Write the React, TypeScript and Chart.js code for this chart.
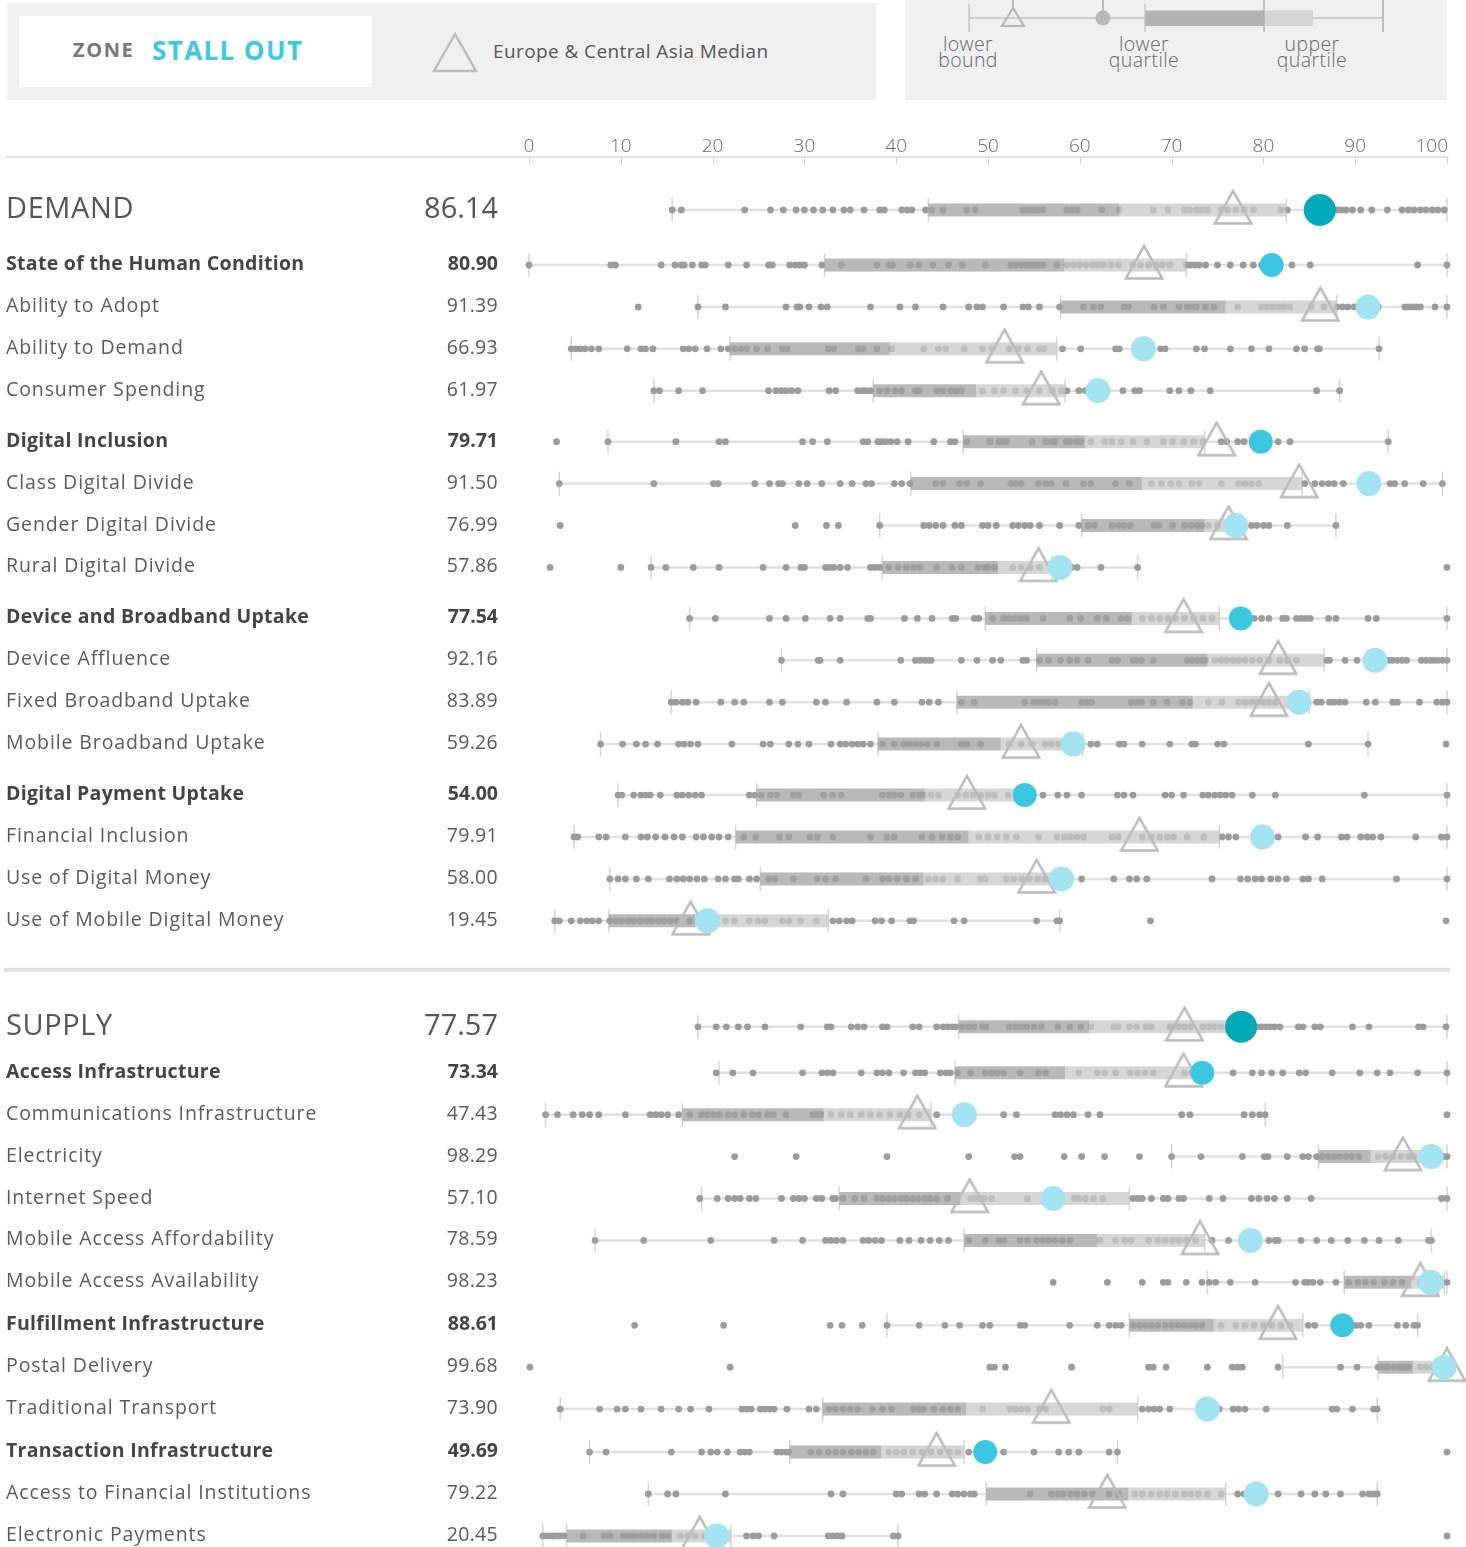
import React, { useEffect, useRef } from 'react';
import { Chart, registerables } from 'chart.js';

Chart.register(...registerables);

const FONT = '"Open Sans", "Noto Sans", sans-serif';

// ---------- DATA ----------
const rowNames = [
  'DEMAND',
  'State of the Human Condition',
  'Ability to Adopt',
  'Ability to Demand',
  'Consumer Spending',
  'Digital Inclusion',
  'Class Digital Divide',
  'Gender Digital Divide',
  'Rural Digital Divide',
  'Device and Broadband Uptake',
  'Device Affluence',
  'Fixed Broadband Uptake',
  'Mobile Broadband Uptake',
  'Digital Payment Uptake',
  'Financial Inclusion',
  'Use of Digital Money',
  'Use of Mobile Digital Money',
  'SUPPLY',
  'Access Infrastructure',
  'Communications Infrastructure',
  'Electricity',
  'Internet Speed',
  'Mobile Access Affordability',
  'Mobile Access Availability',
  'Fulfillment Infrastructure',
  'Postal Delivery',
  'Traditional Transport',
  'Transaction Infrastructure',
  'Access to Financial Institutions',
  'Electronic Payments',
];

const rowLevels = [
  'section', 'pillar', 'sub', 'sub', 'sub', 'pillar', 'sub', 'sub', 'sub',
  'pillar', 'sub', 'sub', 'sub', 'pillar', 'sub', 'sub', 'sub',
  'section', 'pillar', 'sub', 'sub', 'sub', 'sub', 'sub', 'pillar', 'sub', 'sub',
  'pillar', 'sub', 'sub',
];

const rowScores = [
  86.14, 80.90, 91.39, 66.93, 61.97, 79.71, 91.50, 76.99, 57.86,
  77.54, 92.16, 83.89, 59.26, 54.00, 79.91, 58.00, 19.45,
  77.57, 73.34, 47.43, 98.29, 57.10, 78.59, 98.23, 88.61, 99.68, 73.90,
  49.69, 79.22, 20.45,
];

const lowerBounds = [
  15.6, 0, 18.4, 4.6, 13.6, 8.6, 3.3, 38.2, 13.3,
  17.5, 27.5, 15.5, 7.8, 9.7, 4.9, 8.8, 2.8,
  18.4, 20.7, 1.8, 70.0, 18.8, 7.2, 73.9, 39.0, 82.1, 3.4,
  6.6, 13.0, 1.5,
];
const lowerQuartiles = [
  43.5, 32.2, 57.9, 21.9, 37.5, 47.3, 41.6, 60.2, 38.5,
  49.7, 55.3, 46.6, 38.0, 24.8, 22.5, 25.2, 8.7,
  46.8, 46.4, 16.7, 86.0, 33.8, 47.4, 88.8, 65.4, 92.5, 32.0,
  28.4, 49.8, 4.1,
];
const medians = [
  64.3, 58.3, 75.9, 39.3, 48.7, 60.6, 66.8, 73.6, 51.1,
  65.7, 73.9, 72.3, 51.4, 43.1, 47.9, 43.0, 18.1,
  61.0, 58.4, 32.1, 91.7, 47.0, 61.9, 96.1, 74.6, 96.3, 47.6,
  38.4, 65.3, 15.6,
];
const upperQuartiles = [
  82.5, 71.6, 88.0, 57.5, 58.4, 73.6, 84.2, 77.5, 57.0,
  75.2, 86.6, 85.0, 60.3, 54.0, 75.2, 57.9, 32.6,
  76.5, 72.6, 43.8, 97.5, 65.4, 73.6, 99.7, 84.3, 99.7, 66.3,
  47.4, 75.9, 22.0,
];
const upperBounds = [
  100, 100, 100, 92.6, 88.3, 93.6, 99.5, 87.9, 66.3,
  100, 100, 100, 91.4, 100, 100, 100, 57.8,
  100, 100, 80.2, 100, 100, 98.3, 100, 96.8, 100, 92.4,
  64.1, 92.4, 40.2,
];
const regionMedians = [
  76.7, 67.0, 86.2, 51.8, 55.8, 74.9, 83.9, 76.2, 55.5,
  71.3, 81.6, 80.6, 53.6, 47.7, 66.5, 55.3, 17.6,
  71.4, 71.3, 42.3, 95.2, 48.0, 73.1, 97.1, 81.6, 100, 56.9,
  44.4, 63.0, 18.6,
];

const dotsDemand = [15.6, 16.6, 23.5, 26.3, 27.7, 29.1, 30.0, 31.0, 32.0, 33.1, 34.3, 35.0, 36.5, 38.2, 38.7, 40.6, 41.2, 41.7, 43.2, 43.9, 45.1, 47.7, 48.6, 53.8, 54.4, 54.9, 55.4, 56.0, 58.6, 59.2, 59.7, 62.4, 64.3, 68.0, 69.6, 71.4, 72.0, 72.7, 73.3, 73.9, 75.4, 76.1, 77.0, 77.9, 78.9, 81.9, 82.6, 87.6, 88.0, 88.5, 89.0, 89.7, 90.6, 91.8, 93.5, 95.1, 95.8, 96.4, 97.1, 97.7, 98.4, 99.0, 99.7];
const dotsHuman = [0, 8.9, 9.4, 14.4, 15.9, 16.6, 16.9, 17.8, 18.8, 19.2, 21.7, 23.7, 26.1, 26.5, 28.4, 29.0, 29.5, 30.0, 31.9, 34.0, 37.9, 39.2, 39.6, 41.5, 42.5, 44.0, 45.7, 47.2, 49.7, 52.5, 53.0, 53.6, 54.1, 54.6, 55.0, 55.5, 56.0, 57.5, 58.6, 59.3, 60.0, 60.7, 61.4, 62.0, 62.6, 63.4, 64.2, 65.8, 66.6, 67.5, 68.3, 69.0, 69.8, 71.6, 72.0, 72.5, 73.0, 73.7, 75.0, 76.4, 77.8, 78.9, 79.8, 83.1, 85.1, 96.8, 100];
const dotsAdopt = [11.9, 18.4, 21.4, 28.0, 29.2, 29.5, 30.5, 31.8, 32.5, 37.2, 40.4, 42.1, 45.1, 47.9, 48.8, 49.4, 51.7, 53.8, 54.4, 55.6, 57.8, 60.4, 61.5, 62.3, 64.8, 65.3, 68.1, 69.1, 70.8, 71.7, 72.3, 72.7, 73.7, 74.6, 77.2, 79.8, 80.4, 81.0, 81.6, 82.2, 82.9, 85.2, 86.6, 88.0, 88.6, 89.2, 89.9, 92.5, 95.4, 95.8, 96.2, 96.6, 97.1, 98.7, 100];
const dotsAbilityDemand = [4.6, 5.1, 5.6, 6.1, 6.8, 7.6, 10.7, 12.2, 12.7, 13.5, 16.8, 17.4, 18.1, 19.4, 20.9, 21.7, 22.4, 23.1, 23.7, 24.8, 26.0, 27.6, 28.1, 32.6, 33.2, 35.9, 36.4, 37.9, 39.5, 43.0, 44.6, 45.4, 47.4, 49.4, 50.4, 52.3, 53.3, 54.3, 55.6, 56.1, 58.1, 60.1, 63.9, 64.3, 68.8, 69.3, 72.7, 73.6, 76.4, 78.7, 80.6, 83.6, 84.5, 85.9, 86.1, 92.6];
const dotsConsumer = [13.6, 14.2, 16.3, 18.9, 26.1, 26.9, 27.5, 28.0, 28.6, 29.3, 32.7, 33.4, 35.8, 36.3, 36.7, 37.2, 38.2, 39.0, 39.9, 40.6, 42.1, 42.5, 44.4, 45.1, 45.9, 46.5, 47.1, 49.4, 50.7, 51.7, 53.0, 54.2, 55.6, 57.0, 58.0, 58.6, 59.9, 60.6, 64.7, 66.0, 66.5, 69.8, 70.8, 72.1, 74.2, 85.8, 88.3];
const dotsInclusion = [3.0, 8.6, 16.0, 20.7, 21.4, 29.8, 30.9, 32.5, 36.4, 36.9, 38.0, 38.4, 38.8, 39.4, 40.1, 41.3, 44.1, 45.9, 46.4, 47.7, 50.2, 51.2, 51.7, 52.0, 54.8, 56.3, 56.9, 57.3, 58.5, 58.9, 59.6, 60.1, 61.2, 62.7, 63.5, 64.5, 65.8, 67.3, 69.1, 70.1, 71.3, 72.4, 73.4, 75.4, 76.0, 77.2, 77.9, 81.6, 82.9, 93.6];
const dotsClass = [3.3, 13.6, 20.1, 20.6, 24.6, 26.2, 27.2, 27.6, 29.4, 30.3, 31.9, 33.9, 35.2, 36.7, 37.3, 39.8, 40.6, 41.5, 44.3, 45.1, 46.9, 47.7, 49.2, 52.5, 53.0, 53.6, 55.5, 56.3, 56.9, 58.5, 60.4, 61.2, 63.9, 65.4, 67.8, 68.9, 69.9, 70.8, 72.2, 73.0, 75.4, 77.3, 78.0, 78.7, 79.5, 84.5, 85.6, 86.4, 87.1, 87.7, 88.7, 93.8, 94.3, 95.4, 97.4, 99.5];
const dotsGender = [3.4, 29.0, 32.4, 33.7, 38.2, 43.0, 43.6, 44.3, 45.1, 46.4, 47.1, 49.4, 50.0, 50.9, 52.7, 53.3, 54.0, 54.6, 55.6, 57.8, 59.9, 60.9, 61.6, 63.5, 64.2, 64.8, 65.5, 68.1, 68.6, 70.1, 71.4, 72.1, 72.8, 73.3, 74.0, 75.0, 78.7, 79.3, 80.0, 80.6, 82.6, 87.9];
const dotsRural = [2.3, 10.0, 13.3, 14.9, 17.9, 20.7, 25.5, 28.0, 29.6, 30.0, 32.3, 32.7, 33.2, 33.9, 34.7, 37.2, 37.7, 38.2, 39.2, 40.2, 41.1, 41.9, 42.6, 44.4, 46.1, 47.1, 48.9, 49.6, 50.0, 50.7, 52.7, 53.6, 54.6, 55.6, 59.1, 59.7, 62.3, 66.3, 100];
const dotsDevice = [17.5, 20.3, 26.2, 28.0, 30.1, 32.8, 33.9, 36.9, 37.2, 40.9, 42.3, 43.9, 46.1, 46.5, 48.5, 49.0, 50.5, 51.7, 52.3, 52.9, 53.6, 54.2, 56.0, 58.9, 60.1, 61.9, 62.9, 64.5, 65.2, 66.8, 67.8, 68.7, 69.6, 70.4, 71.4, 72.4, 73.4, 74.4, 78.3, 79.0, 79.8, 80.6, 82.1, 82.5, 83.6, 84.1, 84.6, 85.1, 87.1, 87.9, 91.4, 92.3, 100];
const dotsAffluence = [27.5, 31.5, 31.7, 33.9, 40.5, 42.1, 42.6, 43.1, 43.5, 43.8, 47.1, 48.8, 50.5, 51.4, 53.8, 54.2, 55.6, 56.6, 57.9, 58.9, 59.7, 60.9, 63.5, 64.1, 65.8, 66.2, 66.7, 68.0, 71.7, 72.2, 72.8, 73.3, 73.7, 74.7, 75.4, 76.0, 76.7, 77.3, 78.0, 78.8, 79.6, 80.6, 81.8, 82.6, 83.6, 86.9, 87.2, 88.9, 90.2, 93.7, 94.1, 94.6, 95.1, 95.6, 97.2, 97.7, 98.2, 98.6, 99.0, 99.5, 100];
const dotsFixed = [15.5, 16.0, 16.7, 17.3, 18.2, 20.9, 22.4, 23.4, 26.2, 27.6, 31.3, 32.3, 34.6, 37.9, 39.8, 42.8, 43.6, 44.6, 47.1, 48.5, 54.0, 55.0, 55.5, 56.0, 56.6, 57.3, 60.2, 60.8, 61.3, 65.6, 66.2, 66.7, 68.0, 69.5, 71.2, 72.0, 74.0, 75.5, 77.3, 78.0, 78.7, 79.3, 80.0, 80.6, 81.3, 85.8, 86.3, 87.2, 87.7, 88.3, 88.9, 91.2, 92.2, 94.1, 94.6, 97.0, 98.9, 99.5, 100];
const dotsMobileBroadband = [7.8, 10.2, 11.7, 12.7, 14.0, 16.3, 16.9, 17.6, 18.4, 22.1, 25.5, 26.3, 28.3, 29.3, 30.5, 32.9, 33.9, 34.5, 35.2, 35.8, 36.4, 37.2, 38.5, 39.8, 40.8, 41.4, 42.1, 42.7, 43.4, 44.4, 47.1, 47.7, 49.2, 52.3, 53.6, 54.8, 56.2, 56.9, 57.7, 61.2, 61.9, 64.3, 64.8, 66.8, 69.8, 72.2, 72.6, 75.0, 75.7, 84.9, 91.4, 99.9];
const dotsPayment = [9.7, 10.1, 11.4, 12.2, 12.7, 13.2, 14.3, 16.1, 16.7, 17.4, 18.1, 18.8, 24.0, 24.6, 25.3, 26.3, 27.0, 28.8, 29.4, 32.1, 33.1, 34.0, 38.5, 39.2, 39.8, 40.5, 41.8, 42.5, 43.0, 43.8, 44.6, 46.7, 47.6, 48.4, 49.2, 50.0, 50.7, 52.2, 56.0, 57.6, 58.6, 60.2, 64.1, 64.8, 65.8, 69.3, 70.0, 71.3, 73.4, 74.0, 74.7, 75.3, 75.9, 76.6, 78.8, 81.3, 91.0, 100];
const dotsFinancial = [4.9, 5.3, 7.6, 8.4, 10.5, 12.2, 12.9, 13.8, 14.8, 15.8, 16.7, 18.2, 19.0, 19.9, 20.7, 21.7, 23.4, 24.7, 27.3, 28.3, 30.6, 31.4, 33.1, 37.2, 39.0, 39.8, 42.8, 43.9, 45.0, 45.9, 46.7, 49.0, 50.0, 51.0, 52.0, 53.1, 55.5, 57.5, 58.3, 59.0, 59.7, 60.4, 63.5, 64.2, 66.8, 67.8, 68.7, 69.5, 70.2, 71.7, 73.5, 75.5, 76.2, 77.0, 81.6, 84.6, 85.9, 88.5, 89.1, 90.6, 91.3, 91.9, 92.8, 96.6, 99.4, 100];
const dotsDigitalMoney = [8.8, 9.7, 10.5, 11.7, 13.0, 15.3, 16.1, 16.8, 17.5, 18.3, 19.1, 20.6, 21.4, 22.4, 22.8, 24.0, 24.8, 26.1, 26.8, 28.8, 31.4, 32.3, 33.4, 36.7, 38.5, 39.2, 40.1, 41.1, 42.1, 43.5, 44.3, 45.1, 46.7, 49.2, 49.7, 52.0, 52.8, 53.7, 54.5, 55.4, 56.2, 60.2, 63.7, 65.4, 66.2, 67.3, 74.4, 77.5, 78.3, 79.1, 79.8, 80.8, 81.6, 82.5, 84.3, 84.9, 86.4, 94.5, 100];
const dotsMobileMoney = [2.8, 3.3, 4.6, 5.6, 6.3, 6.9, 7.6, 8.8, 9.5, 10.1, 10.8, 11.4, 12.1, 12.8, 13.4, 14.1, 14.7, 15.4, 16.1, 17.5, 18.8, 19.4, 21.4, 22.4, 24.0, 25.0, 25.7, 27.6, 28.3, 29.6, 31.3, 33.1, 33.8, 34.6, 35.2, 37.7, 38.4, 39.5, 41.5, 41.9, 46.3, 47.4, 55.3, 57.5, 57.8, 67.7, 99.9];
const dotsSupply = [18.4, 20.4, 21.5, 22.8, 23.8, 25.7, 29.6, 32.5, 32.9, 35.1, 35.8, 36.5, 38.5, 39.0, 41.8, 42.5, 44.4, 45.1, 45.6, 46.1, 46.5, 47.2, 47.9, 48.5, 49.4, 49.8, 52.3, 53.0, 53.6, 54.2, 55.0, 55.8, 57.6, 58.9, 60.1, 61.2, 63.7, 64.2, 65.4, 66.2, 67.2, 67.8, 69.8, 70.1, 70.8, 71.4, 72.1, 73.4, 74.1, 74.7, 75.4, 79.3, 79.8, 80.3, 80.7, 81.2, 81.8, 83.8, 84.3, 85.6, 86.2, 89.7, 91.5, 96.9, 97.4, 99.9];
const dotsAccess = [20.4, 22.2, 24.4, 29.8, 31.9, 32.5, 33.1, 36.2, 37.9, 38.5, 39.2, 40.8, 42.1, 42.6, 43.1, 44.8, 45.4, 45.9, 46.7, 48.1, 49.7, 50.4, 51.0, 51.7, 53.5, 55.5, 56.3, 59.9, 61.9, 62.7, 63.9, 65.5, 66.3, 67.1, 68.0, 71.4, 72.2, 76.7, 78.8, 79.8, 80.9, 82.1, 83.9, 84.6, 87.5, 90.5, 92.4, 93.8, 96.8, 100];
const dotsComms = [1.8, 3.1, 4.8, 5.8, 6.6, 7.6, 10.5, 13.2, 13.8, 14.4, 15.1, 16.3, 17.5, 18.8, 19.4, 20.1, 20.7, 21.7, 22.4, 23.4, 24.3, 25.0, 26.0, 26.6, 28.0, 30.9, 31.3, 31.8, 32.9, 34.0, 35.0, 36.2, 37.2, 38.2, 39.3, 40.4, 41.3, 42.5, 44.4, 51.7, 53.1, 57.3, 57.9, 58.6, 59.3, 60.9, 62.2, 71.1, 72.0, 77.9, 78.8, 79.6, 80.2, 100];
const dotsElectricity = [22.4, 29.1, 39.0, 47.9, 52.9, 53.5, 58.3, 60.2, 62.7, 66.5, 70.0, 73.2, 77.7, 80.1, 80.5, 82.6, 84.3, 84.9, 85.8, 86.4, 87.1, 87.7, 88.3, 89.0, 89.6, 90.4, 92.5, 93.3, 94.1, 95.0, 95.8, 96.4, 97.4, 99.6, 100];
const dotsInternet = [18.6, 20.5, 21.7, 22.4, 23.0, 24.0, 24.7, 27.5, 28.8, 29.4, 30.0, 31.3, 31.9, 33.1, 33.4, 34.2, 35.5, 36.5, 37.9, 38.5, 39.2, 39.8, 40.5, 41.1, 41.8, 42.4, 43.1, 43.7, 44.4, 45.6, 48.1, 48.6, 49.1, 49.6, 50.4, 54.3, 56.3, 59.4, 59.9, 60.6, 61.5, 62.5, 65.8, 66.3, 66.8, 67.8, 69.1, 69.6, 70.8, 71.3, 74.1, 75.6, 78.7, 79.5, 80.4, 81.2, 82.6, 85.2, 99.4, 100];
const dotsAffordability = [7.2, 12.5, 19.8, 26.7, 29.8, 32.3, 32.9, 33.5, 34.2, 36.4, 37.0, 37.7, 38.4, 40.4, 41.4, 42.7, 43.7, 44.7, 45.7, 47.9, 49.7, 51.2, 51.7, 53.5, 54.3, 55.3, 56.0, 56.6, 57.3, 58.1, 58.9, 62.2, 63.9, 64.9, 65.6, 67.5, 68.5, 69.3, 70.1, 70.8, 71.6, 72.6, 74.4, 76.2, 80.6, 81.3, 81.6, 84.1, 85.8, 87.4, 89.2, 91.0, 92.6, 94.7, 98.0, 98.3];
const dotsAvailability = [57.1, 63.0, 66.8, 69.1, 69.6, 71.6, 73.3, 74.1, 74.8, 76.4, 79.1, 83.5, 84.5, 84.9, 85.4, 86.2, 87.9, 89.3, 90.3, 91.1, 92.0, 93.2, 94.1, 95.1, 97.1, 98.1, 100];
const dotsFulfillment = [11.5, 21.2, 32.8, 34.1, 36.3, 39.0, 42.5, 45.3, 46.9, 49.4, 50.2, 53.5, 54.0, 58.9, 61.9, 63.2, 63.9, 64.5, 65.8, 66.5, 67.2, 67.8, 68.5, 69.3, 70.0, 70.7, 71.4, 72.0, 72.6, 73.3, 75.4, 77.0, 78.0, 79.0, 80.0, 80.9, 81.9, 82.9, 84.9, 85.6, 89.5, 90.1, 90.6, 91.5, 94.6, 95.5, 96.4, 96.8];
const dotsPostal = [0.1, 21.9, 50.2, 50.7, 51.9, 59.1, 67.5, 68.0, 69.4, 73.9, 76.6, 77.2, 77.7, 81.6, 88.4, 90.2, 92.5, 93.0, 93.5, 94.2, 94.8, 95.3, 95.8, 97.1, 97.7, 98.4];
const dotsTransport = [3.4, 7.7, 9.6, 10.5, 12.2, 14.4, 16.3, 17.6, 19.6, 23.2, 23.7, 24.2, 25.2, 25.7, 26.2, 26.7, 28.1, 30.5, 31.3, 32.7, 33.4, 34.2, 35.0, 35.8, 37.4, 38.5, 39.5, 41.9, 42.5, 43.0, 44.1, 45.1, 45.9, 46.7, 49.4, 52.4, 53.0, 53.6, 54.3, 55.6, 56.3, 62.5, 63.2, 66.8, 67.5, 68.1, 68.7, 69.8, 75.2, 76.7, 77.3, 78.0, 80.3, 87.5, 88.0, 89.7, 92.0, 92.4];
const dotsTransaction = [6.6, 8.4, 15.5, 18.8, 19.8, 20.5, 21.6, 23.0, 23.5, 24.0, 27.0, 27.5, 28.0, 28.3, 30.7, 31.6, 32.6, 33.4, 34.2, 35.1, 35.9, 36.7, 37.5, 39.2, 40.0, 40.8, 41.8, 42.8, 43.8, 44.8, 45.8, 46.7, 47.9, 51.7, 55.0, 57.7, 58.8, 59.9, 63.2, 64.1, 100];
const dotsFinInstitutions = [13.0, 15.1, 16.0, 21.4, 32.9, 34.2, 40.0, 40.6, 42.5, 43.1, 44.4, 46.1, 46.7, 47.4, 48.1, 48.5, 54.6, 56.9, 57.6, 58.2, 59.0, 59.7, 60.5, 61.4, 63.2, 64.2, 66.0, 66.8, 67.8, 68.7, 69.5, 70.4, 71.4, 72.1, 72.9, 73.9, 75.4, 77.2, 77.9, 81.6, 84.1, 85.6, 86.8, 88.4, 90.8, 91.5, 92.0, 92.4];
const dotsEPayments = [1.5, 2.0, 2.5, 2.8, 3.3, 3.8, 5.9, 8.2, 8.8, 10.3, 10.9, 11.5, 12.2, 12.9, 13.6, 14.5, 15.1, 16.5, 17.3, 18.1, 19.1, 23.7, 24.4, 25.0, 26.7, 32.6, 33.1, 33.6, 34.1, 39.7, 40.2, 100];

const rowDots = [
  dotsDemand, dotsHuman, dotsAdopt, dotsAbilityDemand, dotsConsumer,
  dotsInclusion, dotsClass, dotsGender, dotsRural,
  dotsDevice, dotsAffluence, dotsFixed, dotsMobileBroadband,
  dotsPayment, dotsFinancial, dotsDigitalMoney, dotsMobileMoney,
  dotsSupply, dotsAccess, dotsComms, dotsElectricity, dotsInternet,
  dotsAffordability, dotsAvailability, dotsFulfillment, dotsPostal, dotsTransport,
  dotsTransaction, dotsFinInstitutions, dotsEPayments,
];

const xTicks = { min: 0, max: 100, step: 10 };

// ---------- LAYOUT (page pixels, not data) ----------
const LAYOUT = {
  firstY: 210,
  sectionGap: 106,
  afterSection: [55, 46],
  pillarGap: [51, 43],
  subGap: 41.9,
  canvasTop: 110,
  plotTop: 163,
  pageH: 1547,
  pageW: 1466,
  plotLeft: 529,
  plotRight: 1447,
};

function computeRowYs(): number[] {
  const ys: number[] = [];
  let y = 0;
  let sec = -1;
  rowLevels.forEach((lv, i) => {
    if (lv === 'section') {
      sec += 1;
      y = i === 0 ? LAYOUT.firstY : y + LAYOUT.sectionGap;
    } else if (rowLevels[i - 1] === 'section') {
      y += LAYOUT.afterSection[sec];
    } else if (lv === 'pillar') {
      y += LAYOUT.pillarGap[sec];
    } else {
      y += LAYOUT.subGap;
    }
    ys.push(y);
  });
  return ys;
}

const MARKER_COLORS: Record<string, string> = {
  section: '#00aab6',
  pillar: '#3cc7e1',
  sub: '#a2e3f1',
};
const MARKER_RADIUS: Record<string, number> = { section: 16, pillar: 12, sub: 12.5 };

function makeTriangle(): HTMLCanvasElement {
  const c = document.createElement('canvas');
  c.width = 40;
  c.height = 42;
  const g = c.getContext('2d')!;
  g.strokeStyle = '#b9b9b9';
  g.lineWidth = 2.4;
  g.lineJoin = 'miter';
  g.beginPath();
  g.moveTo(20, 1.8);
  g.lineTo(1.8, 34.5);
  g.lineTo(38.2, 34.5);
  g.closePath();
  g.stroke();
  return c;
}

export default function App() {
  const canvasRef = useRef<HTMLCanvasElement | null>(null);

  useEffect(() => {
    document.body.style.margin = '0';
    const canvas = canvasRef.current;
    if (!canvas) return;
    const rowYs = computeRowYs();
    const tri = makeTriangle();
    const datasets: any[] = [];

    rowYs.forEach((y, i) => {
      // whiskers (outside the box)
      datasets.push({
        data: [{ x: lowerBounds[i], y }, { x: lowerQuartiles[i], y }],
        showLine: true, borderColor: '#e1e1e1', borderWidth: 2.5, pointRadius: 0, order: 5, clip: false,
      });
      datasets.push({
        data: [{ x: upperQuartiles[i], y }, { x: upperBounds[i], y }],
        showLine: true, borderColor: '#e1e1e1', borderWidth: 2.5, pointRadius: 0, order: 5, clip: false,
      });
      // boxes
      datasets.push({
        data: [{ x: lowerQuartiles[i], y }, { x: medians[i], y }],
        showLine: true, borderColor: 'rgba(160,160,160,0.74)', borderWidth: 13, borderCapStyle: 'butt',
        pointRadius: 0, order: 2, clip: false,
      });
      datasets.push({
        data: [{ x: medians[i], y }, { x: upperQuartiles[i], y }],
        showLine: true, borderColor: 'rgba(200,200,200,0.74)', borderWidth: 13, borderCapStyle: 'butt',
        pointRadius: 0, order: 2, clip: false,
      });
    });

    // tick marks at bounds / quartiles
    datasets.push({
      data: rowYs.flatMap((y, i) => [lowerBounds[i], lowerQuartiles[i], upperQuartiles[i], upperBounds[i]].map((x) => ({ x, y }))),
      pointStyle: 'line', rotation: 90, pointRadius: 12, borderColor: '#d6d6d6', borderWidth: 1.5,
      order: 4, clip: false,
    });
    // dots
    datasets.push({
      data: rowYs.flatMap((y, i) => rowDots[i].map((x) => ({ x, y }))),
      pointRadius: 3.4, backgroundColor: '#9c9c9c', borderWidth: 0, order: 3, clip: false,
    });
    // regional median triangles
    datasets.push({
      data: rowYs.map((y, i) => ({ x: regionMedians[i], y })),
      pointStyle: tri, pointRadius: 18, order: 1, clip: false,
    });
    // country score markers
    datasets.push({
      data: rowYs.map((y, i) => ({ x: rowScores[i], y })),
      pointRadius: rowLevels.map((l) => MARKER_RADIUS[l]),
      backgroundColor: rowLevels.map((l) => MARKER_COLORS[l]),
      borderWidth: 0, order: 0, clip: false,
    });

    const sepY = rowYs[rowLevels.lastIndexOf('section')] - 57;

    const decorPlugin = {
      id: 'decor',
      beforeDatasetsDraw(chart: any) {
        const { ctx, chartArea } = chart;
        const xs = chart.scales.x;
        const ys = chart.scales.y;
        ctx.save();
        // axis line
        const axisY = chartArea.top - 6;
        ctx.strokeStyle = '#d9d9d9';
        ctx.lineWidth = 1.5;
        ctx.beginPath();
        ctx.moveTo(6, axisY);
        ctx.lineTo(1449, axisY);
        ctx.stroke();
        ctx.strokeStyle = '#cfcfcf';
        ctx.lineWidth = 1;
        ctx.beginPath();
        xs.ticks.forEach((t: any) => {
          const px = Math.round(xs.getPixelForValue(t.value)) + 0.5;
          ctx.moveTo(px, axisY);
          ctx.lineTo(px, axisY + 7);
        });
        ctx.stroke();
        // tick labels (last one kept inside the plot edge)
        ctx.font = `300 19px ${FONT}`;
        ctx.fillStyle = '#6a6a6a';
        ctx.textBaseline = 'middle';
        xs.ticks.forEach((t: any, k: number) => {
          const px = xs.getPixelForValue(t.value);
          const last = k === xs.ticks.length - 1;
          ctx.textAlign = last ? 'right' : 'center';
          ctx.fillText(String(t.value), last ? px + 1 : px, chartArea.top - 16);
        });
        // section separator
        const sp = ys.getPixelForValue(sepY);
        ctx.fillStyle = '#dedede';
        ctx.fillRect(4, sp - 2, 1446, 4);
        // row labels
        rowNames.forEach((name, i) => {
          const lv = rowLevels[i];
          const py = ys.getPixelForValue(rowYs[i]);
          ctx.textBaseline = 'middle';
          let nameSpacing = '0.9px';
          let scoreSpacing = '0.3px';
          if (lv === 'section') {
            ctx.font = `500 29px ${FONT}`;
            ctx.fillStyle = '#555555';
            nameSpacing = '0.6px';
            scoreSpacing = '0px';
          } else if (lv === 'pillar') {
            ctx.font = `700 19.5px ${FONT}`;
            ctx.fillStyle = '#444444';
            nameSpacing = '0.3px';
            scoreSpacing = '0px';
          } else {
            ctx.font = `400 19.5px ${FONT}`;
            ctx.fillStyle = '#5a5a5a';
          }
          const ty = py - 0.5;
          ctx.textAlign = 'left';
          (ctx as any).letterSpacing = nameSpacing;
          ctx.fillText(name, 6, ty);
          ctx.textAlign = 'right';
          (ctx as any).letterSpacing = scoreSpacing;
          ctx.fillText(rowScores[i].toFixed(2), 498, ty);
        });
        ctx.restore();
      },
    };

    const chart = new Chart(canvas, {
      type: 'scatter',
      data: { datasets },
      options: {
        animation: false,
        responsive: false,
        events: [],
        plugins: { legend: { display: false }, tooltip: { enabled: false } },
        layout: {
          autoPadding: false,
          padding: { left: LAYOUT.plotLeft, right: LAYOUT.pageW - LAYOUT.plotRight, top: 0, bottom: 0 },
        },
        scales: {
          x: {
            type: 'linear',
            position: 'top',
            min: xTicks.min,
            max: xTicks.max,
            ticks: {
              stepSize: xTicks.step,
              display: false,
              maxRotation: 0,
              autoSkip: false,
            },
            grid: { display: false, drawTicks: false },
            border: { display: false },
            afterFit: (s: any) => {
              s.height = LAYOUT.plotTop - LAYOUT.canvasTop;
              s.paddingLeft = 0;
              s.paddingRight = 0;
            },
          },
          y: {
            type: 'linear',
            min: LAYOUT.plotTop,
            max: LAYOUT.pageH,
            reverse: true,
            display: false,
          },
        },
      } as any,
      plugins: [decorPlugin],
    });
    return () => chart.destroy();
  }, []);

  const legendLabel = (cx: number, l1: string, l2: string) => (
    <div
      key={cx}
      style={{
        position: 'absolute', left: cx - 60, top: 36, width: 120, textAlign: 'center',
        fontSize: 19.5, lineHeight: '16px', color: '#666', fontWeight: 300, letterSpacing: 0.4,
      }}
    >
      {l1}
      <br />
      {l2}
    </div>
  );

  return (
    <div style={{ position: 'relative', width: LAYOUT.pageW, height: LAYOUT.pageH, overflow: 'hidden', background: '#fff', fontFamily: FONT }}>
      {/* left header box */}
      <div style={{ position: 'absolute', left: 7, top: 3, width: 869, height: 97, background: '#f0f0f0' }} />
      <div style={{ position: 'absolute', left: 19, top: 16, width: 353, height: 71, background: '#fff' }} />
      <div style={{ position: 'absolute', left: 73, top: 38, fontSize: 20, lineHeight: '24px', fontWeight: 700, color: '#777', letterSpacing: 1.6 }}>ZONE</div>
      <div style={{ position: 'absolute', left: 152, top: 35, fontSize: 26, lineHeight: '30px', fontWeight: 700, color: '#3cc8e0', letterSpacing: 1.4 }}>STALL OUT</div>
      <svg style={{ position: 'absolute', left: 431, top: 31 }} width={50} height={44}>
        <polygon points="24,3 3,40 45,40" fill="none" stroke="#bcbcbc" strokeWidth={2.5} />
      </svg>
      <div style={{ position: 'absolute', left: 493, top: 39, fontSize: 19, lineHeight: '24px', color: '#555', letterSpacing: 0.4 }}>
        Europe &amp; Central Asia Median
      </div>

      {/* right header legend box */}
      <div style={{ position: 'absolute', left: 905, top: 0, width: 542, height: 100, background: '#f0f0f0' }} />
      <svg style={{ position: 'absolute', left: 905, top: 0 }} width={542} height={100}>
        <g transform="translate(-905,0)">
          <line x1={969} y1={18} x2={1383} y2={18} stroke="#cccccc" strokeWidth={2} />
          <rect x={1145} y={10.5} width={119} height={15.5} fill="#b3b3b3" />
          <rect x={1264} y={10.5} width={49} height={15.5} fill="#d4d4d4" />
          <line x1={969} y1={4} x2={969} y2={32} stroke="#c6c6c6" strokeWidth={1.5} />
          <line x1={1145} y1={4} x2={1145} y2={32} stroke="#c6c6c6" strokeWidth={1.5} />
          <line x1={1264} y1={0} x2={1264} y2={32} stroke="#b0b0b0" strokeWidth={1.5} />
          <line x1={1383} y1={0} x2={1383} y2={32} stroke="#b0b0b0" strokeWidth={1.5} />
          <line x1={1013} y1={0} x2={1013} y2={8} stroke="#aaaaaa" strokeWidth={1.5} />
          <polygon points="1013,8 1002,26 1024,26" fill="none" stroke="#b5b5b5" strokeWidth={2.2} />
          <line x1={1103} y1={0} x2={1103} y2={12} stroke="#aaaaaa" strokeWidth={1.5} />
          <circle cx={1103} cy={18} r={7.5} fill="#b8b8b8" />
        </g>
      </svg>
      {legendLabel(968, 'lower', 'bound')}
      {legendLabel(1144, 'lower', 'quartile')}
      {legendLabel(1312, 'upper', 'quartile')}

      <canvas
        ref={canvasRef}
        width={LAYOUT.pageW}
        height={LAYOUT.pageH - LAYOUT.canvasTop}
        style={{ position: 'absolute', left: 0, top: LAYOUT.canvasTop, width: LAYOUT.pageW, height: LAYOUT.pageH - LAYOUT.canvasTop }}
      />
    </div>
  );
}
